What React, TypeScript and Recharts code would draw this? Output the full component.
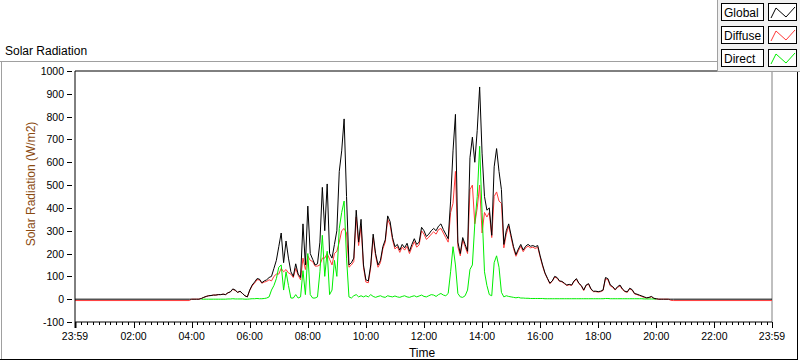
import React from 'react';
import { LineChart, Line, XAxis, YAxis, ReferenceLine } from 'recharts';

// Day samples: every 5 minutes starting 04:00 (minutes since midnight)
const DAY_START_MIN = 240;
const DAY_STEP_MIN = 5;

const GLOBAL = [
  // 04:00
  0, 0, 0, 0, 3, 8, 12, 15, 16, 18, 18, 20,
  // 05:00
  20, 22, 20, 28, 32, 45, 40, 30, 35, 25, 15, 10,
  // 06:00
  40, 62, 75, 90, 88, 72, 80, 85, 95, 100, 135, 170,
  // 07:00
  230, 290, 160, 255, 180, 120, 100, 155, 110, 95, 330, 150,
  // 08:00
  408, 200, 175, 150, 155, 250, 490, 300, 505, 200, 180, 240,
  // 09:00
  300, 560, 650, 790, 450, 150, 160, 180, 390, 250, 350, 150,
  // 10:00
  85, 80, 150, 285, 200, 150, 170, 230, 260, 365, 340, 270,
  // 11:00
  230, 240, 215, 240, 225, 245, 210, 240, 265, 240, 250, 315,
  // 12:00
  300, 275, 285, 300, 310, 300, 320, 330, 305, 285, 265, 430,
  // 13:00
  650, 810, 250, 200, 270, 240, 210, 620, 710, 600, 740, 930,
  // 14:00
  640, 450, 390, 400, 280, 580, 660, 560, 480, 240, 300, 330,
  // 15:00
  280, 230, 195, 220, 240, 215, 232, 240, 232, 235, 230, 235,
  // 16:00
  190, 150, 115, 92, 70, 80, 100, 95, 80, 78, 70, 62,
  // 17:00
  65, 62, 80, 90, 70, 60, 40, 62, 68, 45, 35, 35,
  // 18:00
  33, 35, 40, 95, 90, 62, 55, 42, 55, 62, 45, 35,
  // 19:00
  32, 48, 42, 25, 22, 18, 14, 10, 6, 8, 12, 4,
  // 20:00 - 20:30
  2, 0, 0, 0, 0, 0, 0,
];

const DIFFUSE = [
  0, 0, 0, 0, 3, 8, 12, 15, 16, 18, 18, 20,
  20, 22, 20, 28, 32, 43, 38, 30, 34, 25, 15, 10,
  38, 58, 70, 85, 85, 70, 75, 78, 85, 80, 100, 110,
  110, 135, 120, 130, 115, 110, 95, 135, 105, 85, 180, 130,
  190, 170, 165, 145, 145, 150, 180, 180, 200, 175, 150, 200,
  210, 250, 300, 310, 290, 140, 150, 165, 360, 235, 320, 140,
  75, 72, 140, 270, 190, 140, 160, 220, 250, 350, 325, 260,
  220, 230, 205, 228, 215, 232, 200, 228, 252, 228, 238, 300,
  285, 262, 272, 285, 295, 285, 305, 310, 290, 270, 250, 380,
  420, 560, 230, 190, 260, 230, 200, 480, 500, 330, 400, 500,
  290, 380, 360, 380, 270, 450, 470, 430, 420, 225, 285, 320,
  270, 222, 188, 212, 232, 208, 225, 232, 225, 228, 222, 228,
  185, 145, 112, 90, 68, 78, 97, 92, 78, 76, 68, 60,
  63, 60, 78, 87, 68, 58, 38, 60, 66, 43, 33, 33,
  31, 33, 38, 90, 85, 58, 52, 40, 52, 58, 42, 33,
  30, 45, 40, 23, 20, 16, 12, 8, 5, 7, 10, 3,
  1, 0, 0, 0, 0, 0, -5,
];

const DIRECT: (number | null)[] = [
  null, null, null, null, 0, 0, 0, 0, 0, 0, 0, 0,
  0, 0, 0, 1, 1, 2, 1, 1, 1, 1, 0, 0,
  1, 2, 2, 3, 2, 2, 3, 5, 10, 40, 60, 90,
  140, 150, 40, 120, 60, 5, 5, 20, 5, 10, 125, 20,
  200, 20, 5, 5, 10, 120, 280, 100, 210, 20, 40, 170,
  100, 310, 380, 430, 180, 10, 5, 15, 20, 10, 15, 10,
  15, 10, 20, 12, 8, 12, 15, 10, 8, 15, 12, 10,
  14, 10, 8, 12, 15, 10, 8, 12, 15, 10, 14, 18,
  12, 10, 15, 20, 18, 12, 20, 25, 18, 15, 25, 120,
  230, 150, 25, 10, 8, 15, 40, 130, 150, 330, 450, 670,
  380, 120, 60, 20, 15, 160, 190, 140, 30, 10, 15, 12,
  10, 8, 6, 8, 5, 5, 4, 4, 3, 3, 3, 3,
  3, 3, 2, 2, 2, 2, 2, 2, 2, 2, 2, 2,
  2, 2, 2, 2, 2, 2, 2, 2, 2, 2, 2, 2,
  2, 2, 2, 3, 3, 2, 2, 2, 2, 2, 2, 2,
  2, 2, 2, 2, 2, 2, 2, 1, 1, 1, 1, 1,
  0, null, null, null, null, null, null,
];

// Night samples (no sun)
const NIGHT_BEFORE_TIMES = [-1, 235];
const NIGHT_AFTER_TIMES = [1235, 1439];
const NIGHT_GLOBAL = 0;
const NIGHT_DIFFUSE = -6;

const X_MAJOR = [-1, 120, 240, 360, 480, 600, 720, 840, 960, 1080, 1200, 1320, 1439];
const X_LABELS = ['23:59', '02:00', '04:00', '06:00', '08:00', '10:00', '12:00', '14:00', '16:00', '18:00', '20:00', '22:00', '23:59'];
const X_MINOR_STEP = 12;
const Y_TICKS = [-100, 0, 100, 200, 300, 400, 500, 600, 700, 800, 900, 1000];

const SERIES_NAMES = ['Global', 'Diffuse', 'Direct'];
const SERIES_COLORS = ['#000000', '#ff3a3a', '#00ee00'];

type Row = { t: number; global: number | null; diffuse: number | null; direct: number | null };

const data: Row[] = [];
NIGHT_BEFORE_TIMES.forEach((t) => data.push({ t, global: NIGHT_GLOBAL, diffuse: NIGHT_DIFFUSE, direct: null }));
GLOBAL.forEach((g, i) => {
  data.push({ t: DAY_START_MIN + i * DAY_STEP_MIN, global: g, diffuse: DIFFUSE[i], direct: DIRECT[i] });
});
NIGHT_AFTER_TIMES.forEach((t) => data.push({ t, global: NIGHT_GLOBAL, diffuse: NIGHT_DIFFUSE, direct: null }));

const xTicks: number[] = [-1];
for (let m = X_MINOR_STEP; m < 1439; m += X_MINOR_STEP) xTicks.push(m);
xTicks.push(1439);

const FONT = '"Liberation Sans", Arial, sans-serif';

const XTick = (props: any) => {
  const { x, y, payload } = props;
  const idx = X_MAJOR.indexOf(payload.value);
  const px = Math.round(x) + 0.5;
  if (idx < 0) {
    return <line x1={px} x2={px} y1={y} y2={y + 3} stroke="#000" strokeWidth={1} />;
  }
  return (
    <g>
      <line x1={px} x2={px} y1={y} y2={y + 6} stroke="#000" strokeWidth={idx === 0 ? 2 : 1} />
      <text x={x} y={y + 18} textAnchor="middle" fontFamily={FONT} fontSize={10.5} fill="#000">
        {X_LABELS[idx]}
      </text>
    </g>
  );
};

const YTick = (props: any) => {
  const { x, y, payload } = props;
  const py = Math.round(y) + 0.5;
  return (
    <g>
      <line x1={x - 8} x2={x - 3} y1={py} y2={py} stroke="#000" strokeWidth={1} />
      <text x={x - 11} y={y + 4} textAnchor="end" fontFamily={FONT} fontSize={10.5} fill="#000">
        {payload.value}
      </text>
    </g>
  );
};

const Swatch = ({ x, y, color }: { x: number; y: number; color: string }) => (
  <g>
    <rect x={x + 0.5} y={y + 0.5} width={28} height={17} fill="#fff" stroke="#000" />
    <polyline
      points={`${x + 3},${y + 15} ${x + 8},${y + 5} ${x + 18},${y + 14} ${x + 27},${y + 4}`}
      fill="none"
      stroke={color}
      strokeWidth={1}
    />
  </g>
);

export default function App() {
  return (
    <div style={{ position: 'absolute', left: 0, top: 0, width: 800, height: 361, background: '#fff' }}>
      <LineChart width={800} height={361} data={data} margin={{ top: 71, right: 28, bottom: 0, left: 0 }}>
        <XAxis
          dataKey="t"
          type="number"
          domain={[-1, 1439]}
          ticks={xTicks}
          interval={0}
          tickLine={false}
          tickSize={0}
          tickMargin={0}
          height={39}
          axisLine={{ stroke: '#000' }}
          tick={<XTick />}
          allowDataOverflow
        />
        <YAxis
          type="number"
          domain={[-100, 1000]}
          ticks={Y_TICKS}
          interval={0}
          width={75}
          tickLine={false}
          tickSize={0}
          tickMargin={0}
          axisLine={{ stroke: '#000' }}
          tick={<YTick />}
          allowDataOverflow
        />
        <ReferenceLine y={1000} stroke="#000" />
        <ReferenceLine x={1439} stroke="#808080" />
        <Line type="linear" dataKey="diffuse" name={SERIES_NAMES[1]} stroke={SERIES_COLORS[1]} strokeWidth={1} dot={false} isAnimationActive={false} />
        <Line type="linear" dataKey="direct" name={SERIES_NAMES[2]} stroke={SERIES_COLORS[2]} strokeWidth={1} dot={false} isAnimationActive={false} />
        <Line type="linear" dataKey="global" name={SERIES_NAMES[0]} stroke={SERIES_COLORS[0]} strokeWidth={1} dot={false} isAnimationActive={false} />
      </LineChart>
      <svg width={800} height={361} style={{ position: 'absolute', left: 0, top: 0, pointerEvents: 'none' }}>
        {/* panel frame */}
        <line x1={0} x2={717} y1={61.5} y2={61.5} stroke="#a0a0a0" />
        <line x1={1.5} x2={1.5} y1={61} y2={360} stroke="#a0a0a0" />
        <line x1={0} x2={798} y1={359.5} y2={359.5} stroke="#000" />
        <line x1={797.5} x2={797.5} y1={72} y2={360} stroke="#000" />
        <text x={5} y={55} fontFamily={FONT} fontSize={12} fill="#000">Solar Radiation</text>
        <text
          x={35}
          y={184}
          transform="rotate(-90 35 184)"
          textAnchor="middle"
          fontFamily={FONT}
          fontSize={12}
          fill="#8a4a10"
        >
          Solar Radiation (W/m2)
        </text>
        <text x={422} y={357} textAnchor="middle" fontFamily={FONT} fontSize={12} fill="#000">Time</text>
        {/* legend */}
        <rect x={717.5} y={-1} width={90} height={72.5} fill="#f0f0f0" stroke="#a0a0a0" />
        {SERIES_NAMES.map((name, i) => {
          const top = [3, 26, 49][i];
          return (
            <g key={name}>
              <rect x={721.5} y={top + 0.5} width={42} height={17} fill="#fff" stroke="#000" />
              <text x={724} y={top + 14} fontFamily={FONT} fontSize={12} fill="#000">{name}</text>
              <Swatch x={768} y={top} color={SERIES_COLORS[i]} />
            </g>
          );
        })}
      </svg>
    </div>
  );
}
